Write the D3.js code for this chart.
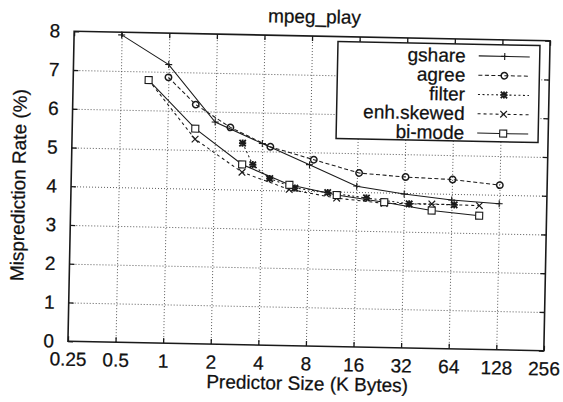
<!DOCTYPE html>
<html><head><meta charset="utf-8">
<script src="https://cdn.jsdelivr.net/npm/d3@7"></script>
<style>
html,body{margin:0;padding:0;background:#fff;}
svg{display:block;}
text{font-family:"Liberation Sans",Arial,Helvetica,sans-serif;fill:#111;stroke:#111;stroke-width:0.25px;}
</style></head><body>
<svg id="c" width="563" height="402"></svg>
<script>
const title = "mpeg_play";
const xLabel = "Predictor Size (K Bytes)";
const yLabel = "Misprediction Rate (%)";
const xTicks = [0.25, 0.5, 1, 2, 4, 8, 16, 32, 64, 128, 256];
const xTickLabels = ["0.25", "0.5", "1", "2", "4", "8", "16", "32", "64", "128", "256"];
const yTicks = [0, 1, 2, 3, 4, 5, 6, 7, 8];
const seriesNames = ["gshare", "agree", "filter", "enh.skewed", "bi-mode"];

const gshareSize = [0.5, 1, 2, 4, 8, 16, 32, 64, 128];
const gshareRate = [7.93, 7.19, 5.73, 5.2, 4.68, 4.15, 3.97, 3.84, 3.77];
const agreeSize = [1, 1.5, 2.5, 4.5, 8.5, 16.5, 32.5, 64.5, 128.5];
const agreeRate = [6.86, 6.17, 5.6, 5.12, 4.81, 4.49, 4.41, 4.37, 4.25];
const filterSize = [3, 3.5, 4.5, 6.5, 10.5, 18.5, 34.5, 66.5];
const filterRate = [5.2, 4.65, 4.3, 4.07, 3.97, 3.85, 3.72, 3.72];
const enhSize = [0.75, 1.5, 3, 6, 12, 24, 48, 96];
const enhRate = [6.78, 5.28, 4.45, 4.03, 3.83, 3.72, 3.73, 3.71];
const bimodeSize = [0.75, 1.5, 3, 6, 12, 24, 48, 96];
const bimodeRate = [6.78, 5.55, 4.65, 4.15, 3.91, 3.75, 3.56, 3.45];

const seriesSizes = [gshareSize, agreeSize, filterSize, enhSize, bimodeSize];
const seriesRates = [gshareRate, agreeRate, filterRate, enhRate, bimodeRate];

const ink = "#1a1a1a";
const styles = [
  {dash: null, marker: "plus"},
  {dash: "4,2.5", marker: "circle"},
  {dash: "2,2.5", marker: "star"},
  {dash: "3,3", marker: "cross"},
  {dash: null, marker: "square"}
];

const m = {l: 71, r: 547, t: 36, b: 346};
const x = d3.scaleLog().base(2).domain([0.25, 256]).range([m.l, m.r]);
const y = d3.scaleLinear().domain([0, 8]).range([m.b, m.t]);
const pw = m.r - m.l, ph = m.b - m.t;

const svg = d3.select("#c");
svg.append("rect").attr("width", 563).attr("height", 402).attr("fill", "#fff");
const g = svg.append("g").attr("transform", "rotate(1.15,309,191)");

// grid
const gridX = g.append("g").attr("transform", `translate(0,${m.b})`)
  .call(d3.axisBottom(x).tickValues(xTicks.slice(1, -1)).tickSize(-ph).tickFormat(""));
gridX.select(".domain").remove();
gridX.selectAll("line").attr("stroke", "#4a4a4a").attr("stroke-width", 0.9).attr("stroke-dasharray", "1,2");
const gridY = g.append("g").attr("transform", `translate(${m.l},0)`)
  .call(d3.axisLeft(y).tickValues(yTicks.slice(1, -1)).tickSize(-pw).tickFormat(""));
gridY.select(".domain").remove();
gridY.selectAll("line").attr("stroke", "#4a4a4a").attr("stroke-width", 0.9).attr("stroke-dasharray", "1,2");

// axes with inward ticks
function styleAxis(sel) {
  sel.select(".domain").remove();
  sel.selectAll("line").attr("stroke", ink).attr("stroke-width", 1.3);
  sel.selectAll("text").attr("font-size", 19).attr("fill", "#111")
    .attr("font-family", '"Liberation Sans",Arial,Helvetica,sans-serif');
}
const xb = g.append("g").attr("transform", `translate(0,${m.b})`)
  .call(d3.axisBottom(x).tickValues(xTicks).tickSize(-5).tickPadding(11)
    .tickFormat((d, i) => xTickLabels[i]));
styleAxis(xb);
const xt = g.append("g").attr("transform", `translate(0,${m.t})`)
  .call(d3.axisTop(x).tickValues(xTicks).tickSize(-5).tickFormat(""));
styleAxis(xt);
const yl = g.append("g").attr("transform", `translate(${m.l},0)`)
  .call(d3.axisLeft(y).tickValues(yTicks).tickSize(-5).tickPadding(14));
styleAxis(yl);
const yr = g.append("g").attr("transform", `translate(${m.r},0)`)
  .call(d3.axisRight(y).tickValues(yTicks).tickSize(-5).tickFormat(""));
styleAxis(yr);

// frame
g.append("rect").attr("x", m.l).attr("y", m.t).attr("width", pw).attr("height", ph)
  .attr("fill", "none").attr("stroke", ink).attr("stroke-width", 1.6);

// markers
function drawMarker(sel, type, cx, cy) {
  const s = sel.append("g").attr("transform", `translate(${cx},${cy})`)
    .attr("stroke", ink).attr("fill", "none");
  if (type === "plus") {
    s.append("path").attr("d", "M-3.5,0H3.5M0,-3.5V3.5").attr("stroke-width", 1.1);
  } else if (type === "circle") {
    s.append("circle").attr("r", 3.2).attr("stroke-width", 1.5);
  } else if (type === "star") {
    s.append("path").attr("d", "M-3.2,-3.2L3.2,3.2M-3.2,3.2L3.2,-3.2M-3.6,0H3.6M0,-3.6V3.6").attr("stroke-width", 1.8);
  } else if (type === "cross") {
    s.append("path").attr("d", "M-3.3,-3.3L3.3,3.3M-3.3,3.3L3.3,-3.3").attr("stroke-width", 1.2);
  } else if (type === "square") {
    s.append("rect").attr("x", -3.5).attr("y", -3.5).attr("width", 7).attr("height", 7)
      .attr("fill", "#fff").attr("stroke-width", 1.1);
  }
}

// series
const line = d3.line().x(d => x(d[0])).y(d => y(d[1]));
seriesNames.forEach((name, i) => {
  const pts = seriesSizes[i].map((s, j) => [s, seriesRates[i][j]]);
  const st = styles[i];
  g.append("path").datum(pts).attr("d", line).attr("fill", "none")
    .attr("stroke", ink).attr("stroke-width", 1.05)
    .attr("stroke-dasharray", st.dash);
  const mg = g.append("g");
  pts.forEach(p => drawMarker(mg, st.marker, x(p[0]), y(p[1])));
});

// legend
const lg = g.append("g");
lg.append("rect").attr("x", 335).attr("y", 41).attr("width", 202).attr("height", 97)
  .attr("fill", "#fff").attr("stroke", ink).attr("stroke-width", 1.5);
seriesNames.forEach((name, i) => {
  const cy = 52.5 + i * 19.3;
  lg.append("text").attr("x", 463).attr("y", cy + 6.5).attr("text-anchor", "end")
    .attr("font-size", 19).text(name);
  lg.append("line").attr("x1", 476).attr("x2", 527).attr("y1", cy).attr("y2", cy)
    .attr("stroke", ink).attr("stroke-width", 1.05).attr("stroke-dasharray", styles[i].dash);
  drawMarker(lg, styles[i].marker, 502, cy);
});

// titles
g.append("text").attr("x", 311).attr("y", 23).attr("text-anchor", "middle")
  .attr("font-size", 19).text(title);
g.append("text").attr("x", 311).attr("y", 390).attr("text-anchor", "middle")
  .attr("font-size", 19).text(xLabel);
g.append("text").attr("transform", "translate(25,191) rotate(-90)").attr("text-anchor", "middle")
  .attr("font-size", 19).text(yLabel);
</script>
</body></html>
